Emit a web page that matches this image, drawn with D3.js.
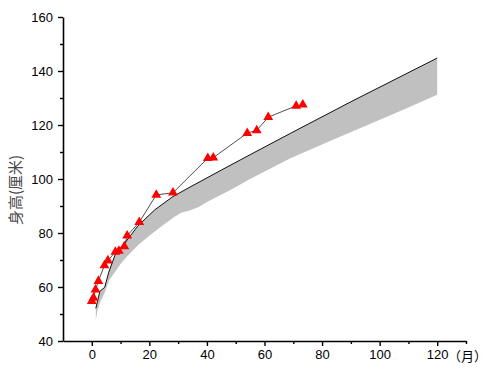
<!DOCTYPE html>
<html><head><meta charset="utf-8">
<script src="https://cdn.jsdelivr.net/npm/d3@7/dist/d3.min.js"></script>
<style>body{margin:0;background:#fff}svg{display:block}</style>
</head><body>
<svg id="c" width="500" height="381"></svg>
<script>
// Band (reference range) — upper edge
const upperMonths = [1.4, 2.8, 4.5, 5.9, 8.3, 11.5, 16, 21.9, 28.2, 34.1, 45, 55, 69, 90, 120];
const upperValues = [52.1, 58.4, 59.9, 65.5, 72.5, 76.3, 82.6, 88.6, 93.5, 97.0, 103.3, 109.0, 116.9, 128.6, 144.8];
// Band lower edge
const lowerMonths = [1.4, 2, 3, 4.5, 6, 8, 10, 12, 16, 20, 24, 28, 31, 34, 37, 40, 48, 55, 69, 84, 96, 108, 120];
const lowerValues = [47.7, 51.5, 54.5, 58.0, 62.5, 65.5, 68.5, 71.0, 75.5, 79.0, 82.3, 85.5, 87.5, 88.3, 89.5, 91.5, 95.8, 100.0, 107.7, 114.6, 120.1, 125.6, 131.2];
// Measured heights (red triangles)
const obsMonths = [0, 0.6, 1.3, 2.3, 4.4, 5.6, 8.2, 9.4, 11.3, 12.3, 16.5, 22.4, 28.2, 40.3, 42.2, 54, 57.3, 61.3, 71, 73.3];
const obsValues = [54.8, 56.0, 59.0, 62.2, 68.0, 69.8, 73.0, 73.4, 75.0, 79.0, 84.0, 94.1, 94.9, 107.7, 107.9, 117.0, 118.0, 122.9, 127.1, 127.5];
// Ticks
const xMajor = [0, 20, 40, 60, 80, 100, 120];
const xMinor = [10, 30, 50, 70, 90, 110, 130];
const yMajor = [40, 60, 80, 100, 120, 140, 160];
const yMinor = [50, 70, 90, 110, 130, 150];
const yTitle = "身高(厘米)";
const xUnit = "（月）";

const svg = d3.select("#c");
const x = d3.scaleLinear().domain([-10, 130]).range([63, 466]);
const y = d3.scaleLinear().domain([40, 160]).range([341, 17]);

// band polygon
const upperPts = upperMonths.map((m, i) => [m, upperValues[i]]);
const lowerPts = lowerMonths.map((m, i) => [m, lowerValues[i]]);
const poly = upperPts.concat(lowerPts.slice().reverse());
svg.append("path")
  .attr("d", d3.line().x(d => x(d[0])).y(d => y(d[1]))(poly) + "Z")
  .attr("fill", "#c0c0c0").attr("stroke", "none");
svg.append("path")
  .attr("d", d3.line().x(d => x(d[0])).y(d => y(d[1]))(upperPts))
  .attr("fill", "none").attr("stroke", "#111").attr("stroke-width", 1);

// observed series
const obs = obsMonths.map((m, i) => [m, obsValues[i]]);
svg.append("path")
  .attr("d", d3.line().x(d => x(d[0])).y(d => y(d[1]))(obs))
  .attr("fill", "none").attr("stroke", "#222").attr("stroke-width", 0.8);
svg.selectAll("path.tri").data(obs).enter().append("path")
  .attr("class", "tri")
  .attr("d", d3.symbol().type(d3.symbolTriangle).size(42))
  .attr("transform", d => `translate(${x(d[0])},${y(d[1])})`)
  .attr("fill", "#ff0000");

// axes
function styleAxis(g) {
  g.selectAll("path.domain").attr("stroke", "#000").attr("stroke-width", 1.6);
  g.selectAll(".tick line").attr("stroke", "#000").attr("stroke-width", 1.4);
  g.selectAll(".tick text").attr("font-family", "'Liberation Sans', Arial, sans-serif")
    .attr("font-size", 13).attr("fill", "#000");
}
const gx = svg.append("g").attr("transform", "translate(0,341)")
  .call(d3.axisBottom(x).tickValues(xMajor).tickSize(5).tickSizeOuter(0).tickPadding(4));
styleAxis(gx);
const gxm = svg.append("g").attr("transform", "translate(0,341)")
  .call(d3.axisBottom(x).tickValues(xMinor).tickSize(3).tickSizeOuter(0).tickFormat(""));
styleAxis(gxm);
gxm.select("path.domain").remove();

const gy = svg.append("g").attr("transform", "translate(63,0)")
  .call(d3.axisLeft(y).tickValues(yMajor).tickSize(5).tickSizeOuter(0).tickPadding(5));
styleAxis(gy);
const gym = svg.append("g").attr("transform", "translate(63,0)")
  .call(d3.axisLeft(y).tickValues(yMinor).tickSize(3).tickSizeOuter(0).tickFormat(""));
styleAxis(gym);
gym.select("path.domain").remove();

// titles
svg.append("text").text(xUnit)
  .attr("x", 448).attr("y", 361)
  .attr("font-family", "'Noto Sans CJK SC', sans-serif").attr("font-size", 13).attr("fill", "#000");
svg.append("text").text(yTitle)
  .attr("transform", "translate(21,190) rotate(-90)")
  .attr("text-anchor", "middle")
  .attr("font-family", "'Noto Sans CJK SC', sans-serif").attr("font-size", 15).attr("fill", "#4a4a4a");
</script>
</body></html>
